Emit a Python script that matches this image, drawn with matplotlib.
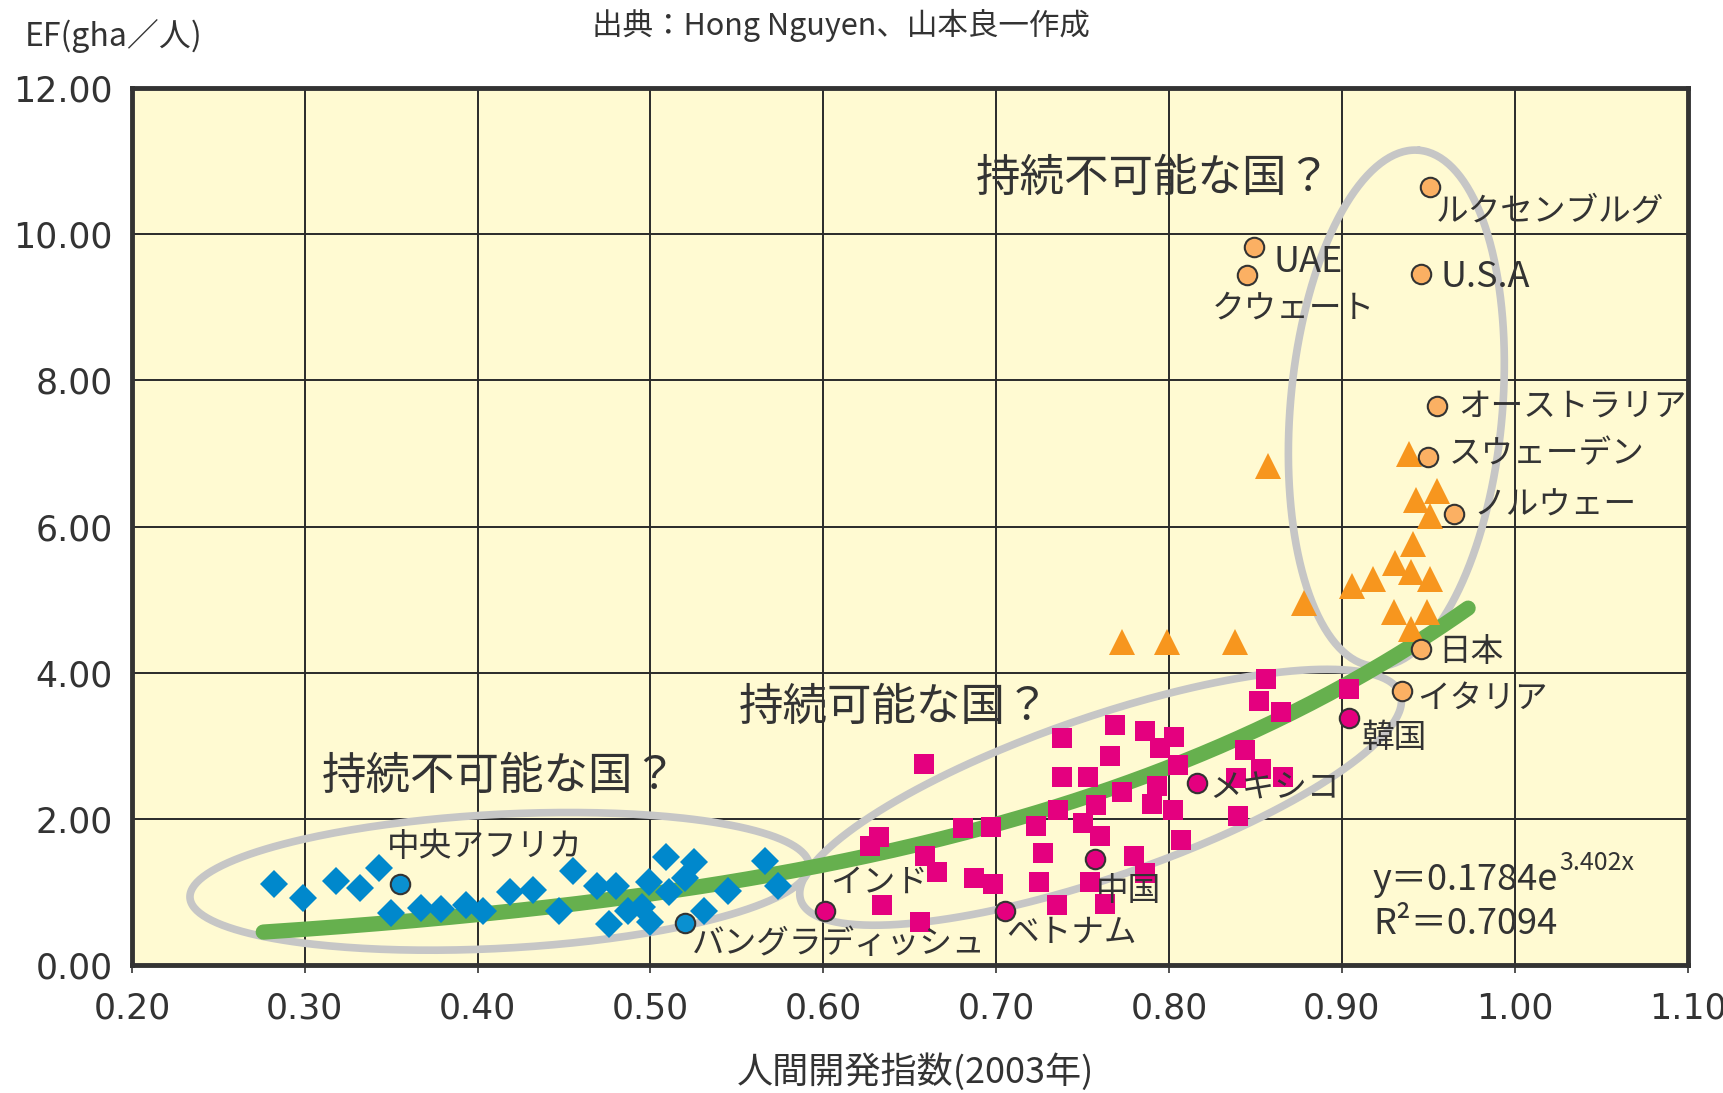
import numpy as np
import matplotlib
matplotlib.use('Agg')
import matplotlib.pyplot as plt

plt.rcParams['font.family'] = ['Noto Sans CJK JP', 'DejaVu Sans']

# 低開発国 (青)
low_x = [0.282, 0.299, 0.318, 0.332, 0.343, 0.350, 0.367, 0.379, 0.393, 0.403,
         0.419, 0.432, 0.447, 0.455, 0.469, 0.476, 0.480, 0.487, 0.495, 0.499,
         0.500, 0.509, 0.511, 0.520, 0.525, 0.531, 0.545, 0.566, 0.574]
low_y = [1.12, 0.92, 1.16, 1.06, 1.33, 0.72, 0.79, 0.77, 0.82, 0.74,
         1.00, 1.03, 0.75, 1.29, 1.08, 0.57, 1.08, 0.75, 0.80, 1.14,
         0.60, 1.48, 1.01, 1.19, 1.41, 0.75, 1.02, 1.43, 1.09]

# 中開発国 (ピンク)
mid_x = [0.856, 0.904, 0.852, 0.865, 0.738, 0.769, 0.786, 0.803, 0.795, 0.658,
         0.766, 0.738, 0.753, 0.805, 0.773, 0.793, 0.844, 0.853, 0.866, 0.839,
         0.790, 0.802, 0.758, 0.736, 0.840, 0.681, 0.697, 0.723, 0.750, 0.760,
         0.807, 0.632, 0.627, 0.659, 0.666, 0.727, 0.687, 0.698, 0.725, 0.754,
         0.780, 0.786, 0.763, 0.735, 0.634, 0.656]
mid_y = [3.92, 3.78, 3.62, 3.46, 3.11, 3.29, 3.20, 3.13, 2.97, 2.76,
         2.86, 2.58, 2.58, 2.74, 2.37, 2.46, 2.95, 2.69, 2.58, 2.56,
         2.21, 2.12, 2.19, 2.12, 2.05, 1.88, 1.90, 1.91, 1.95, 1.77,
         1.72, 1.75, 1.63, 1.49, 1.28, 1.54, 1.19, 1.12, 1.14, 1.14,
         1.49, 1.26, 0.84, 0.82, 0.82, 0.59]

# 高開発国 (オレンジ)
high_x = [0.773, 0.799, 0.838, 0.857, 0.939, 0.943, 0.955, 0.951, 0.941, 0.931,
          0.940, 0.951, 0.918, 0.906, 0.878, 0.930, 0.949, 0.940]
high_y = [4.43, 4.42, 4.42, 6.83, 7.00, 6.36, 6.49, 6.14, 5.77, 5.50,
          5.38, 5.28, 5.29, 5.19, 4.96, 4.83, 4.84, 4.60]

# 国名つきの点
low_names = ['中央アフリカ', 'バングラディッシュ']
low_named_x = [0.355, 0.520]
low_named_y = [1.12, 0.58]

mid_names = ['インド', 'ベトナム', '中国', 'メキシコ', '韓国']
mid_named_x = [0.601, 0.705, 0.757, 0.816, 0.904]
mid_named_y = [0.75, 0.75, 1.45, 2.49, 3.38]

high_names = ['ルクセンブルグ', 'UAE', 'クウェート', 'U.S.A', 'オーストラリア',
              'スウェーデン', 'ノルウェー', '日本', 'イタリア']
high_named_x = [0.951, 0.849, 0.845, 0.946, 0.955, 0.950, 0.965, 0.946, 0.935]
high_named_y = [10.64, 9.83, 9.44, 9.45, 7.65, 6.96, 6.18, 4.33, 3.76]

# 指数近似 y = a * exp(b x)
fit_a = 0.1784
fit_b = 3.402
fit_r2 = 0.7094
fit_range = (0.276, 0.973)

xticks = [0.2, 0.3, 0.4, 0.5, 0.6, 0.7, 0.8, 0.9, 1.0, 1.1]
yticks = [0, 2, 4, 6, 8, 10, 12]

# ラベルのずらし量 (pt)
label_offsets = {
    '中央アフリカ': (-9, 26), 'バングラディッシュ': (5, -15),
    'インド': (4, 20), 'ベトナム': (1, -16), '中国': (1, -23),
    'メキシコ': (9, -4), '韓国': (9, -14),
    'ルクセンブルグ': (4, -17), 'UAE': (14, -11), 'クウェート': (-25, -24),
    'U.S.A': (14, -2), 'オーストラリア': (15, 0), 'スウェーデン': (15, 2),
    'ノルウェー': (14, 6), '日本': (12, -2), 'イタリア': (11, -6),
}

text_col = '#333333'
blue = '#0088cc'
pink = '#e4007f'
orange = '#f7961e'
orange_light = '#fbb063'
grey = '#c6c6c6'
green = '#66b04e'

fig = plt.figure(figsize=(17.24, 10.93), dpi=100)
ax = fig.add_axes([0.0765, 0.1167, 0.9024, 0.8028])
ax.set_facecolor('#fffad2')
ax.set_xlim(0.2, 1.1)
ax.set_ylim(0, 12)
ax.set_xticks(xticks)
ax.set_yticks(yticks)
ax.set_xticklabels(['%.2f' % v for v in xticks], family='DejaVu Sans', fontsize=25, color=text_col)
ax.set_yticklabels(['%.2f' % v for v in yticks], family='DejaVu Sans', fontsize=25, color=text_col)
ax.tick_params(axis='x', length=6, width=1.2, direction='out', pad=13, color='#333333')
ax.tick_params(axis='y', length=0, pad=14)
ax.grid(True, color='#2a2a2a', linewidth=1.4, zorder=1)
ax.set_axisbelow(True)
for s in ax.spines.values():
    s.set_linewidth(3.5)
    s.set_color('#333333')


def ring(cx, cy, a, b, angle):
    # 表示座標(px)で楕円を作ってデータ座標に戻す
    c = ax.transData.transform((cx, cy))
    t = np.linspace(0, 2 * np.pi, 300)
    th = np.deg2rad(angle)
    px = c[0] + a * np.cos(t) * np.cos(th) - b * np.sin(t) * np.sin(th)
    py = c[1] + a * np.cos(t) * np.sin(th) + b * np.sin(t) * np.cos(th)
    pts = ax.transData.inverted().transform(np.column_stack([px, py]))
    ax.plot(pts[:, 0], pts[:, 1], color=grey, lw=5.5, zorder=2, solid_capstyle='round')


ring(0.4127, 1.15, 310, 67, 3)
ring(0.7604, 2.30, 317, 80, 19)
ring(0.9315, 7.62, 259, 106, 85)

fx = np.linspace(fit_range[0], fit_range[1], 200)
ax.plot(fx, fit_a * np.exp(fit_b * fx), color=green, lw=11, zorder=3, solid_capstyle='round')

ax.plot(low_x, low_y, 'D', color=blue, ms=14, mew=0, zorder=4)
ax.plot(mid_x, mid_y, 's', color=pink, ms=14, mew=0, zorder=4)
ax.plot(high_x, high_y, '^', color=orange, ms=19, mew=0, zorder=4)

ax.plot(low_named_x, low_named_y, 'o', color='#0a90d0', mec='#333333', mew=1.5, ms=14, zorder=5)
ax.plot(mid_named_x, mid_named_y, 'o', color=pink, mec='#333333', mew=1.5, ms=14, zorder=5)
ax.plot(high_named_x, high_named_y, 'o', color=orange_light, mec='#333333', mew=1.5, ms=14, zorder=5)

for names, xs, ys in [(low_names, low_named_x, low_named_y),
                      (mid_names, mid_named_x, mid_named_y),
                      (high_names, high_named_x, high_named_y)]:
    for n, x, y in zip(names, xs, ys):
        size = 26 if n in ('UAE', 'U.S.A') else 23.5
        ax.annotate(n, (x, y), xytext=label_offsets[n], textcoords='offset points',
                    ha='left', va='center', fontsize=size, color=text_col, zorder=6)

ax.text(0.688, 10.77, '持続不可能な国？', fontsize=32, color=text_col, va='center', zorder=6)
ax.text(0.551, 3.53, '持続可能な国？', fontsize=32, color=text_col, va='center', zorder=6)
ax.text(0.310, 2.59, '持続不可能な国？', fontsize=32, color=text_col, va='center', zorder=6)

eq = ax.text(0.918, 1.17, 'y＝%.4fe' % fit_a, fontsize=26, color=text_col, va='center', zorder=6)
ax.annotate('%.3fx' % fit_b, xy=(1, 0.62), xycoords=eq, xytext=(1, 0), textcoords='offset points',
            ha='left', va='bottom', fontsize=18, color=text_col, zorder=6)
ax.text(0.918, 0.57, 'R²＝%.4f' % fit_r2, fontsize=26, color=text_col, va='center', zorder=6)

fig.text(0.066, 0.967, 'EF(gha／人)', fontsize=23, color=text_col, ha='center', va='center')
fig.text(0.488, 0.977, '出典：Hong Nguyen、山本良一作成', fontsize=22, color=text_col, ha='center', va='center')
fig.text(0.531, 0.019, '人間開発指数(2003年)', fontsize=26, color=text_col, ha='center', va='center')

fig.savefig('out.png', dpi=100, facecolor='white')
